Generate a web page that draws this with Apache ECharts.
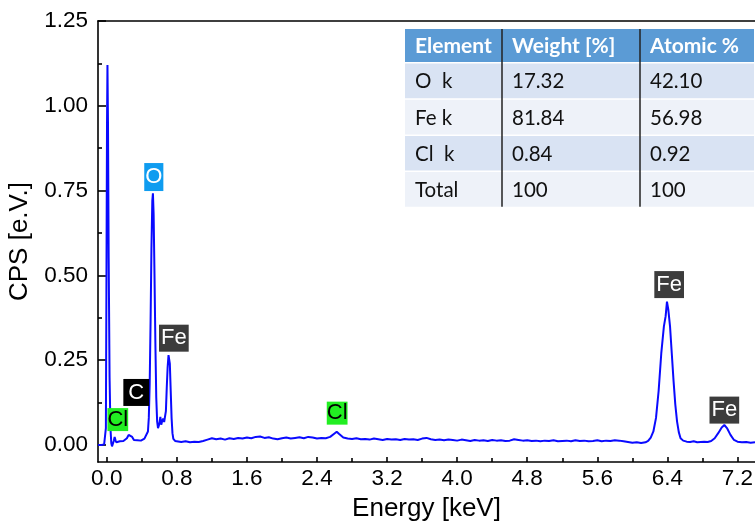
<!DOCTYPE html>
<html><head><meta charset="utf-8">
<script src="https://cdn.jsdelivr.net/npm/echarts@6/dist/echarts.min.js"></script>
<style>html,body{margin:0;padding:0;background:#fff}#c{width:755px;height:523px}</style>
</head><body><div id="c"></div>
<script>
const energy = [
-0.10,-0.08,-0.06,-0.04,-0.03,-0.02,-0.01,-0.004,0.003,0.008,
0.014,0.022,0.032,0.042,0.052,0.06,0.07,0.08,0.09,0.10,
0.11,0.13,0.15,0.17,0.19,0.21,0.23,0.25,0.27,0.29,
0.31,0.33,0.35,0.37,0.39,0.41,0.43,0.45,0.47,0.48,
0.49,0.50,0.51,0.52,0.527,0.535,0.545,0.555,0.565,0.575,
0.585,0.60,0.612,0.622,0.632,0.644,0.655,0.665,0.675,0.685,
0.695,0.705,0.712,0.72,0.73,0.74,0.75,0.76,0.78,0.80,
0.85,0.90,0.95,1.00,1.05,1.10,1.15,1.20,1.25,1.30,
1.35,1.40,1.45,1.50,1.55,1.60,1.65,1.70,1.75,1.80,
1.85,1.90,1.95,2.00,2.05,2.10,2.15,2.20,2.25,2.30,
2.35,2.40,2.45,2.50,2.55,2.60,2.625,2.65,2.70,2.75,
2.80,2.85,2.90,2.95,3.00,3.05,3.10,3.15,3.20,3.25,
3.30,3.35,3.40,3.45,3.50,3.55,3.60,3.65,3.70,3.75,
3.80,3.85,3.90,3.95,4.00,4.05,4.10,4.15,4.20,4.25,
4.30,4.35,4.40,4.45,4.50,4.55,4.60,4.65,4.70,4.75,
4.80,4.85,4.90,4.95,5.00,5.05,5.10,5.15,5.20,5.25,
5.30,5.35,5.40,5.45,5.50,5.55,5.60,5.65,5.70,5.75,
5.80,5.85,5.90,5.95,6.00,6.05,6.10,6.15,6.18,6.21,
6.24,6.27,6.30,6.33,6.36,6.38,6.395,6.41,6.43,6.45,
6.47,6.49,6.51,6.53,6.55,6.58,6.62,6.66,6.70,6.74,
6.78,6.82,6.86,6.90,6.94,6.98,7.02,7.05,7.08,7.12,
7.16,7.20,7.25,7.30,7.35,7.40
];
const cps = [
0.000,0.002,0.000,0.001,0.002,0.003,0.050,0.450,0.950,1.120,
0.950,0.550,0.200,0.050,0.005,-0.004,0.001,0.012,0.024,0.014,
0.008,0.009,0.011,0.008,0.012,0.014,0.020,0.030,0.033,0.024,
0.015,0.012,0.014,0.016,0.013,0.017,0.019,0.022,0.040,0.080,
0.180,0.360,0.580,0.720,0.742,0.680,0.500,0.300,0.140,0.070,
0.050,0.062,0.083,0.060,0.070,0.078,0.068,0.072,0.100,0.170,
0.230,0.265,0.270,0.240,0.160,0.080,0.035,0.018,0.012,0.010,
0.009,0.011,0.008,0.010,0.009,0.012,0.016,0.020,0.017,0.019,
0.016,0.020,0.018,0.021,0.019,0.022,0.020,0.024,0.025,0.021,
0.023,0.019,0.017,0.020,0.022,0.019,0.021,0.023,0.020,0.024,
0.022,0.019,0.021,0.020,0.024,0.034,0.039,0.033,0.022,0.019,
0.018,0.020,0.017,0.018,0.016,0.019,0.017,0.015,0.018,0.016,
0.017,0.015,0.018,0.016,0.017,0.015,0.019,0.021,0.017,0.015,
0.016,0.014,0.016,0.015,0.013,0.016,0.014,0.012,0.015,0.013,
0.014,0.012,0.015,0.013,0.014,0.012,0.013,0.017,0.015,0.013,
0.014,0.012,0.013,0.011,0.013,0.012,0.014,0.011,0.012,0.013,
0.011,0.014,0.012,0.013,0.011,0.012,0.014,0.011,0.013,0.012,
0.014,0.013,0.011,0.009,0.007,0.008,0.006,0.008,0.012,0.022,
0.040,0.080,0.160,0.270,0.350,0.380,0.423,0.400,0.350,0.270,
0.190,0.120,0.070,0.038,0.020,0.013,0.010,0.009,0.011,0.008,
0.009,0.010,0.009,0.012,0.020,0.035,0.052,0.059,0.050,0.030,
0.015,0.010,0.008,0.009,0.007,0.008
];
const xTicks = [0, 0.8, 1.6, 2.4, 3.2, 4.0, 4.8, 5.6, 6.4, 7.2];
const xMinorTicks = [0.4, 1.2, 2.0, 2.8, 3.6, 4.4, 5.2, 6.0, 6.8];
const yTicks = [0, 0.25, 0.5, 0.75, 1.0, 1.25];
const yMinorTicks = [0.125, 0.375, 0.625, 0.875, 1.125];
const peakNames = ['Cl', 'C', 'O', 'Fe', 'Cl', 'Fe', 'Fe'];
const peakLabelX = [0.126, 0.337, 0.537, 0.766, 2.63, 6.42, 7.05];
const peakLabelY = [0.075, 0.155, 0.79, 0.315, 0.094, 0.473, 0.103];
const tableHeader = ['Element', 'Weight [%]', 'Atomic %'];
const tableElements = ['O  k', 'Fe k', 'Cl  k', 'Total'];
const tableWeight = ['17.32', '81.84', '0.84', '100'];
const tableAtomic = ['42.10', '56.98', '0.92', '100'];

const FONT = '"Liberation Sans", Arial, sans-serif';
const peakStyle = {
  O: { bg: '#0f9cf0', fg: '#ffffff', pad: [4, 1, 2, 1] },
  Fe: { bg: '#3c3c3c', fg: '#ffffff', pad: [3, 2, 2, 2] },
  C: { bg: '#000000', fg: '#ffffff', pad: [3, 5, 2, 5] },
  Cl: { bg: '#22ee22', fg: '#000000', pad: [1, 0, 0, 0] }
};

// table graphic
const tX = [405, 502, 640, 754];
const tTop = 29, tHead = 33, tRow = 36.2;
const g = [];
g.push({ type: 'rect', shape: { x: tX[0], y: tTop, width: tX[3] - tX[0], height: tHead }, style: { fill: '#5b9bd5' } });
tableHeader.forEach((h, c) => {
  g.push({ type: 'text', x: tX[c] + 10, y: tTop + tHead / 2 + 1, style: { text: h, fill: '#ffffff', font: 'bold 21px Lato, sans-serif', align: 'left', verticalAlign: 'middle' } });
});
const cols = [tableElements, tableWeight, tableAtomic];
tableElements.forEach((e, r) => {
  const y0 = tTop + tHead + 1.5 + r * tRow;
  g.push({ type: 'rect', shape: { x: tX[0], y: y0, width: tX[3] - tX[0], height: tRow - 1.5 }, style: { fill: r % 2 === 0 ? '#d9e3f3' : '#eef2f9' } });
  cols.forEach((col, c) => {
    g.push({ type: 'text', x: tX[c] + 10, y: y0 + (tRow - 1.5) / 2 + 1, style: { text: col[r], fill: '#111111', font: '20.5px Lato, sans-serif', align: 'left', verticalAlign: 'middle' } });
  });
});
const tBottom = tTop + tHead + 1.5 + tableElements.length * tRow - 1.5;
[tX[1], tX[2]].forEach(x => {
  g.push({ type: 'line', shape: { x1: x, y1: tTop, x2: x, y2: tBottom }, style: { stroke: '#222', lineWidth: 1.5 }, z: 10 });
});

const chart = echarts.init(document.getElementById('c'), null, { renderer: 'canvas' });
const axisLineStyle = { color: '#000', width: 1.6 };
chart.setOption({
  animation: false,
  backgroundColor: '#fff',
  grid: { left: 98, right: 0, top: 21, bottom: 61, containLabel: false, outerBoundsMode: 'none' },
  xAxis: [
    {
      type: 'value', min: -0.1, max: 7.4, position: 'bottom',
      axisLine: { show: true, onZero: false, lineStyle: axisLineStyle },
      axisTick: { show: true, inside: true, length: 5, customValues: xTicks, lineStyle: axisLineStyle },
      axisLabel: { show: true, customValues: xTicks, formatter: v => v.toFixed(1), fontSize: 22.5, color: '#000', fontFamily: FONT, margin: 5 },
      splitLine: { show: false },
      name: 'Energy [keV]', nameLocation: 'middle', nameGap: 34,
      nameTextStyle: { fontSize: 26, color: '#000', fontFamily: FONT }
    },
    {
      type: 'value', min: -0.1, max: 7.4, position: 'bottom',
      axisLine: { show: false, onZero: false },
      axisTick: { show: true, inside: true, length: 4, customValues: xMinorTicks, lineStyle: axisLineStyle },
      axisLabel: { show: false }, splitLine: { show: false }
    },
    {
      type: 'value', min: -0.1, max: 7.4, position: 'top',
      axisLine: { show: true, onZero: false, lineStyle: axisLineStyle },
      axisTick: { show: false }, axisLabel: { show: false }, splitLine: { show: false }
    }
  ],
  yAxis: [
    {
      type: 'value', min: -0.05, max: 1.25, position: 'left',
      axisLine: { show: true, onZero: false, lineStyle: axisLineStyle },
      axisTick: { show: true, inside: true, length: 8, customValues: yTicks, lineStyle: axisLineStyle },
      axisLabel: { show: true, customValues: yTicks, formatter: v => v.toFixed(2), fontSize: 22.5, color: '#000', fontFamily: FONT, margin: 10 },
      splitLine: { show: false },
      name: 'CPS [e.V.]', nameLocation: 'middle', nameGap: 54,
      nameTextStyle: { fontSize: 26, color: '#000', fontFamily: FONT }
    },
    {
      type: 'value', min: -0.05, max: 1.25, position: 'left',
      axisLine: { show: false, onZero: false },
      axisTick: { show: true, inside: true, length: 4, customValues: yMinorTicks, lineStyle: axisLineStyle },
      axisLabel: { show: false }, splitLine: { show: false }
    }
  ],
  series: [
    {
      type: 'line', xAxisIndex: 0, yAxisIndex: 0,
      data: energy.map((e, i) => [e, cps[i]]),
      showSymbol: false, symbol: 'none',
      lineStyle: { color: '#0a0aff', width: 2 },
      z: 2
    },
    {
      type: 'scatter', xAxisIndex: 0, yAxisIndex: 0,
      symbolSize: 0,
      itemStyle: { opacity: 1 },
      emphasis: { disabled: true },
      data: peakNames.map((n, i) => ({
        name: n, value: [peakLabelX[i], peakLabelY[i]],
        label: { backgroundColor: peakStyle[n].bg, color: peakStyle[n].fg, padding: peakStyle[n].pad }
      })),
      label: { show: true, position: 'inside', formatter: '{b}', fontSize: 22, fontFamily: FONT, opacity: 1 },
      z: 5
    }
  ],
  graphic: { elements: g }
});
</script>
</body></html>
